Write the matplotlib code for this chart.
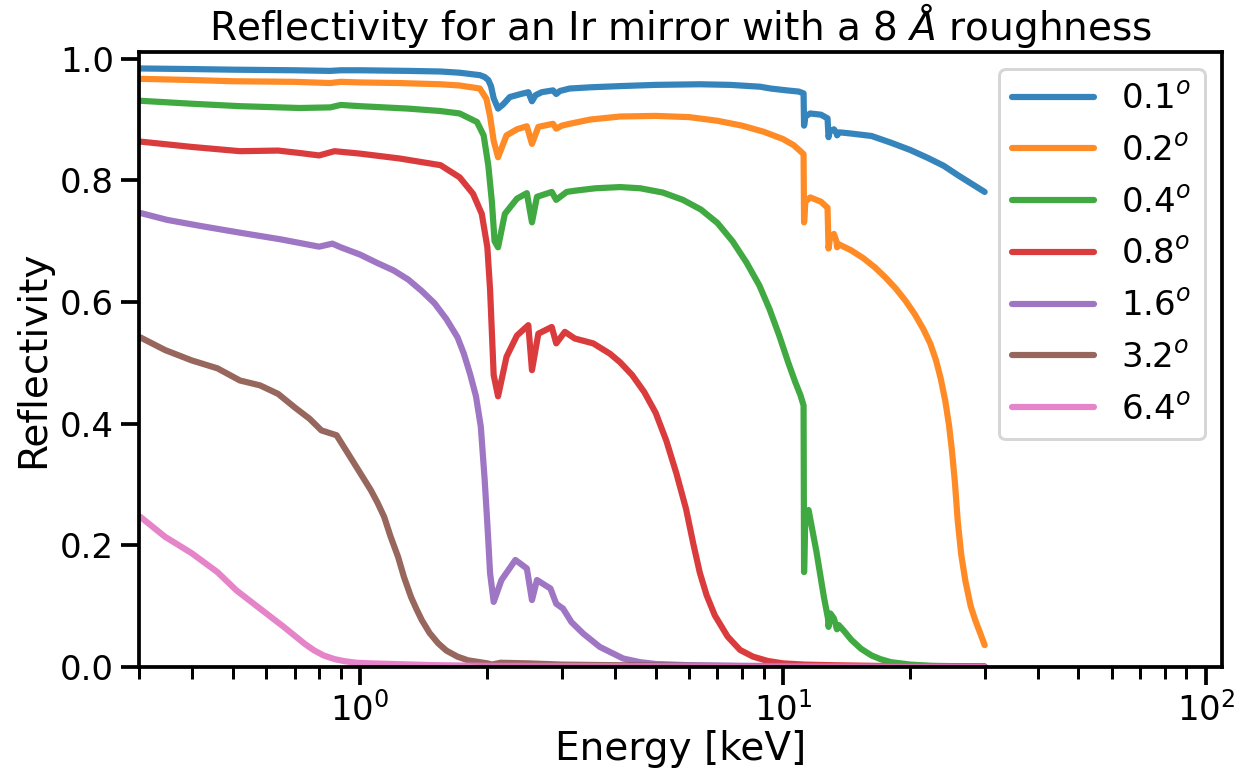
import matplotlib
matplotlib.use("Agg")
import matplotlib.pyplot as plt
import seaborn as sns

# Grazing angles (degrees) for each curve
angles = ["0.1", "0.2", "0.4", "0.8", "1.6", "3.2", "6.4"]

# Energy [keV] and reflectivity for each grazing angle
e_01 = [0.3, 0.4, 0.5, 0.7, 0.85, 0.9, 1.0, 1.3, 1.55, 1.72, 1.92, 1.97, 2.01, 2.04, 2.07, 2.12,
        2.18, 2.26, 2.40, 2.50, 2.55, 2.60, 2.69, 2.86, 2.91, 2.97, 3.13, 3.5, 4.12, 5.0, 6.36,
        7.5, 8.83, 9.35, 10.2, 10.9, 11.19, 11.22, 11.3, 11.6, 12.3, 12.75, 12.82, 12.9, 13.2,
        13.38, 13.43, 13.6, 14.5, 16.2, 18.0, 20.0, 22.0, 24.0, 26.0, 28.0, 30.0]
r_01 = [0.984, 0.983, 0.982, 0.981, 0.980, 0.981, 0.981, 0.980, 0.979, 0.977, 0.973, 0.970, 0.965,
        0.955, 0.935, 0.918, 0.925, 0.937, 0.942, 0.945, 0.930, 0.940, 0.945, 0.948, 0.942, 0.947,
        0.951, 0.953, 0.955, 0.957, 0.958, 0.957, 0.954, 0.951, 0.948, 0.946, 0.943, 0.890, 0.905,
        0.910, 0.908, 0.902, 0.871, 0.880, 0.884, 0.878, 0.874, 0.879, 0.877, 0.873, 0.862, 0.850,
        0.837, 0.824, 0.808, 0.794, 0.781]

e_02 = [0.3, 0.4, 0.5, 0.7, 0.85, 0.9, 1.0, 1.24, 1.55, 1.72, 1.92, 1.99, 2.03, 2.07, 2.12, 2.22,
        2.35, 2.48, 2.55, 2.64, 2.86, 2.91, 3.0, 3.13, 3.5, 4.12, 5.0, 6.0, 7.0, 8.0, 9.0, 10.0,
        10.6, 11.0, 11.19, 11.22, 11.3, 11.6, 12.3, 12.75, 12.82, 12.92, 13.2, 13.38, 13.43,
        13.55, 14.5, 15.5, 16.5, 17.5, 18.5, 19.5, 20.5, 21.5, 22.3, 23.0, 23.6, 24.2, 24.7, 25.1,
        25.5, 25.9, 26.4, 27.0, 27.8, 28.5, 29.3, 30.0]
r_02 = [0.967, 0.965, 0.963, 0.962, 0.960, 0.962, 0.961, 0.960, 0.958, 0.956, 0.951, 0.934, 0.905,
        0.865, 0.838, 0.874, 0.884, 0.889, 0.860, 0.888, 0.893, 0.885, 0.890, 0.893, 0.900, 0.905,
        0.906, 0.904, 0.898, 0.890, 0.880, 0.868, 0.858, 0.848, 0.843, 0.731, 0.765, 0.772, 0.765,
        0.755, 0.688, 0.705, 0.712, 0.700, 0.690, 0.695, 0.685, 0.672, 0.657, 0.640, 0.622, 0.602,
        0.580, 0.555, 0.532, 0.505, 0.475, 0.438, 0.398, 0.356, 0.305, 0.241, 0.185, 0.142, 0.100,
        0.077, 0.055, 0.036]

e_04 = [0.3, 0.4, 0.52, 0.72, 0.85, 0.9, 1.0, 1.3, 1.55, 1.72, 1.89, 1.96, 2.01, 2.05, 2.08, 2.12,
        2.20, 2.35, 2.48, 2.55, 2.62, 2.84, 2.91, 3.08, 3.22, 3.6, 4.12, 4.6, 5.2, 5.8, 6.4, 7.0,
        7.6, 8.2, 8.8, 9.3, 9.8, 10.3, 10.7, 11.0, 11.19, 11.22, 11.3, 11.5, 12.0, 12.5, 12.78,
        12.82, 12.95, 13.2, 13.42, 13.55, 14.0, 14.5, 15.3, 16.2, 17.0, 18.0, 20.0, 22.5, 25.0,
        30.0]
r_04 = [0.931, 0.926, 0.922, 0.919, 0.920, 0.924, 0.922, 0.918, 0.914, 0.910, 0.896, 0.874, 0.825,
        0.765, 0.700, 0.690, 0.745, 0.770, 0.779, 0.731, 0.773, 0.781, 0.768, 0.781, 0.783, 0.787,
        0.789, 0.787, 0.780, 0.768, 0.752, 0.730, 0.700, 0.665, 0.627, 0.588, 0.545, 0.500, 0.468,
        0.447, 0.430, 0.156, 0.250, 0.258, 0.190, 0.115, 0.080, 0.066, 0.088, 0.080, 0.062, 0.069,
        0.058, 0.045, 0.030, 0.019, 0.013, 0.008, 0.004, 0.002, 0.0015, 0.001]

e_08 = [0.3, 0.4, 0.52, 0.64, 0.72, 0.80, 0.87, 1.0, 1.24, 1.55, 1.72, 1.85, 1.94, 2.0, 2.03, 2.07,
        2.12, 2.22, 2.35, 2.50, 2.55, 2.64, 2.84, 2.91, 3.05, 3.22, 3.56, 3.9, 4.12, 4.4, 4.7, 5.0,
        5.3, 5.6, 5.9, 6.15, 6.36, 6.6, 6.9, 7.4, 7.92, 8.5, 9.2, 10.0, 11.2, 13.0, 20.0, 30.0]
r_08 = [0.864, 0.855, 0.848, 0.849, 0.845, 0.841, 0.848, 0.844, 0.836, 0.825, 0.805, 0.778, 0.745,
        0.690, 0.620, 0.480, 0.445, 0.510, 0.545, 0.562, 0.488, 0.548, 0.559, 0.532, 0.551, 0.540,
        0.532, 0.515, 0.501, 0.480, 0.452, 0.418, 0.372, 0.318, 0.260, 0.200, 0.155, 0.118, 0.085,
        0.050, 0.028, 0.017, 0.010, 0.006, 0.004, 0.003, 0.001, 0.0005]

e_16 = [0.3, 0.35, 0.42, 0.52, 0.65, 0.80, 0.86, 0.9, 1.0, 1.1, 1.2, 1.3, 1.4, 1.5, 1.6, 1.7,
        1.76, 1.82, 1.88, 1.93, 1.97, 2.0, 2.03, 2.07, 2.16, 2.33, 2.48, 2.55, 2.62, 2.82, 2.91,
        3.02, 3.16, 3.37, 3.69, 4.19, 4.59, 5.0, 6.0, 8.0, 30.0]
r_16 = [0.747, 0.735, 0.725, 0.714, 0.703, 0.691, 0.696, 0.690, 0.678, 0.664, 0.652, 0.637, 0.618,
        0.598, 0.572, 0.542, 0.515, 0.482, 0.445, 0.395, 0.310, 0.235, 0.154, 0.107, 0.143, 0.176,
        0.162, 0.110, 0.143, 0.129, 0.104, 0.096, 0.074, 0.055, 0.033, 0.014, 0.008, 0.005, 0.003,
        0.002, 0.0005]

e_32 = [0.302, 0.346, 0.40, 0.46, 0.52, 0.58, 0.64, 0.70, 0.76, 0.81, 0.88, 0.97, 1.06, 1.10, 1.14,
        1.18, 1.23, 1.27, 1.32, 1.36, 1.40, 1.46, 1.53, 1.6, 1.70, 1.80, 2.0, 2.05, 2.15, 2.5, 3.0,
        4.0, 6.0, 10.0, 30.0]
r_32 = [0.542, 0.521, 0.504, 0.491, 0.471, 0.463, 0.449, 0.427, 0.408, 0.389, 0.381, 0.334, 0.291,
        0.270, 0.247, 0.215, 0.181, 0.148, 0.115, 0.095, 0.077, 0.056, 0.039, 0.027, 0.017, 0.011,
        0.006, 0.004, 0.007, 0.006, 0.004, 0.003, 0.002, 0.001, 0.0005]

e_64 = [0.302, 0.346, 0.40, 0.46, 0.51, 0.58, 0.66, 0.74, 0.78, 0.82, 0.87, 0.92, 0.98, 1.06, 1.5,
        2.0, 30.0]
r_64 = [0.247, 0.214, 0.187, 0.156, 0.126, 0.096, 0.066, 0.038, 0.027, 0.019, 0.013, 0.0095, 0.007,
        0.006, 0.003, 0.002, 0.0003]

energies = [e_01, e_02, e_04, e_08, e_16, e_32, e_64]
reflect = [r_01, r_02, r_04, r_08, r_16, r_32, r_64]

sns.set_context("talk")
sns.set_style("ticks")
plt.rcParams["font.family"] = ["DejaVu Sans"]
plt.rcParams.update({
    "text.color": "black",
    "axes.labelcolor": "black",
    "axes.edgecolor": "black",
    "xtick.color": "black",
    "ytick.color": "black",
})

fig = plt.figure(figsize=(1244 / 144, 772 / 144), dpi=144)
ax = fig.add_axes([0.1117, 0.136, 0.8703, 0.7966])

for ang, e, r in zip(angles, energies, reflect):
    ax.plot(e, r, lw=3.1, alpha=0.9, label=ang + r"$^o$")

ax.set_xscale("log")
ax.set_xlim(0.3, 109)
ax.set_ylim(0, 1.011)
ax.set_yticks([0.0, 0.2, 0.4, 0.6, 0.8, 1.0])
ax.tick_params(labelsize=17)
ax.set_xlabel("Energy [keV]", fontsize=19.5, labelpad=1)
ax.set_ylabel("Reflectivity", fontsize=19.5)
ax.set_title(r"Reflectivity for an Ir mirror with a 8 $\AA$ roughness", fontsize=19.5)
ax.legend(loc="upper right", handlelength=2.4, fontsize=17, labelspacing=0.55)

fig.savefig("out.png", dpi=144)
